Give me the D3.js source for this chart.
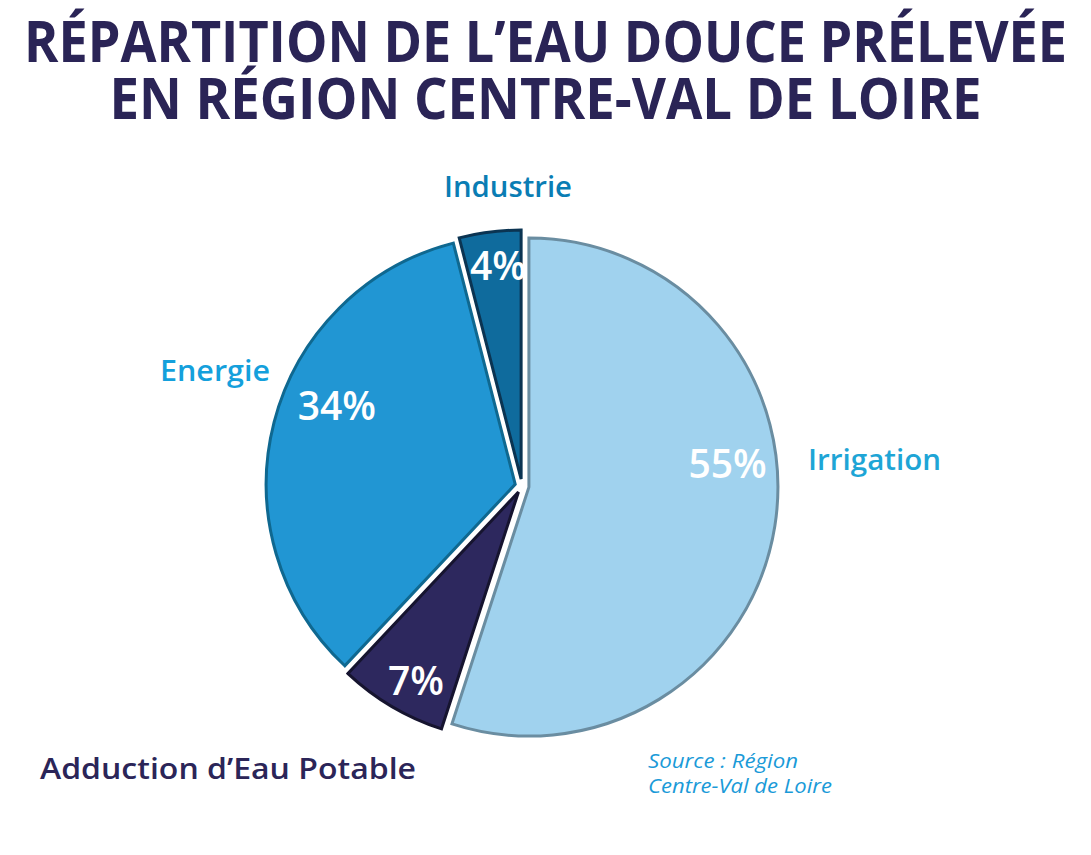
<!DOCTYPE html>
<html>
<head>
<meta charset="utf-8">
<script src="https://cdn.jsdelivr.net/npm/d3@7"></script>
<style>
  body { margin: 0; background: #fff; }
  svg { display: block; font-family: "Open Sans", Lato, sans-serif; }
</style>
</head>
<body>
<div id="chart"></div>
<script>
// Data
const categories = ["Irrigation", "Adduction d\u2019Eau Potable", "Energie", "Industrie"];
const shares = [55, 7, 34, 4];
const titleLines = ["RÉPARTITION DE L\u2019EAU DOUCE PRÉLEVÉE", "EN RÉGION CENTRE-VAL DE LOIRE"];
const sourceLines = ["Source : Région", "Centre-Val de Loire"];

// Styling per slice
const fills = ["#a0d2ee", "#2d285e", "#2196d3", "#0f6b9d"];
const strokes = ["#6a8da1", "#16142f", "#0f6890", "#0b3452"];
const nameColors = ["#1ea5d6", "#2b2558", "#14a0dc", "#0a7db4"];
// outside name labels: [x, y, anchor, width]
const namePos = [[808, 470, "start", 133], [40, 779, "start", 376], [215, 381, "middle", 110], [508, 197, "middle", 128]];
// percent label placement: angle nudge (degrees) and radius factor
const labelShift = [-15, -2, 9, 1];
const labelRadius = [0.83, 0.89, 0.81, 0.89];

const width = 1091, height = 855;
const cx = 522, cy = 486, radius = 249, explode = 7;

const svg = d3.select("#chart").append("svg")
  .attr("width", width)
  .attr("height", height);

// Title
svg.append("g").selectAll("text")
  .data(titleLines)
  .join("text")
  .attr("x", width / 2)
  .attr("y", (d, i) => 62 + i * 57)
  .attr("text-anchor", "middle")
  .attr("font-size", 57)
  .attr("font-weight", 700)
  .attr("fill", "#2a2456")
  .attr("textLength", (d, i) => i === 0 ? 1043 : 872)
  .attr("lengthAdjust", "spacingAndGlyphs")
  .text(d => d);

const pie = d3.pie().sort(null).value(d => d.value);
const arcs = pie(categories.map((c, i) => ({ name: c, value: shares[i], i })));

const arc = d3.arc().innerRadius(0).outerRadius(radius);

const g = svg.append("g").attr("transform", `translate(${cx},${cy})`);

const slices = g.selectAll("g.slice")
  .data(arcs)
  .join("g")
  .attr("class", "slice")
  .attr("transform", d => {
    const a = (d.startAngle + d.endAngle) / 2;
    return `translate(${Math.sin(a) * explode},${-Math.cos(a) * explode})`;
  });

slices.append("path")
  .attr("d", arc)
  .attr("fill", d => fills[d.data.i])
  .attr("stroke", d => strokes[d.data.i])
  .attr("stroke-width", 3)
  .attr("stroke-linejoin", "miter");

// percent labels, placed relative to the pie centre
g.selectAll("text.pct")
  .data(arcs)
  .join("text")
  .attr("class", "pct")
  .attr("transform", d => {
    const a = (d.startAngle + d.endAngle) / 2 + labelShift[d.data.i] * Math.PI / 180;
    const r = radius * labelRadius[d.data.i];
    return `translate(${Math.sin(a) * r},${-Math.cos(a) * r})`;
  })
  .attr("dy", "0.36em")
  .attr("text-anchor", "middle")
  .attr("font-size", 39)
  .attr("font-weight", 600)
  .attr("fill", "#fff")
  .text(d => d.data.value + "%");

// category names
svg.append("g").selectAll("text")
  .data(arcs)
  .join("text")
  .attr("x", d => namePos[d.data.i][0])
  .attr("y", d => namePos[d.data.i][1])
  .attr("text-anchor", d => namePos[d.data.i][2])
  .attr("font-size", 29)
  .attr("font-weight", 600)
  .attr("fill", d => nameColors[d.data.i])
  .attr("textLength", d => namePos[d.data.i][3])
  .attr("lengthAdjust", "spacingAndGlyphs")
  .text(d => d.data.name);

// source
svg.append("g").selectAll("text")
  .data(sourceLines)
  .join("text")
  .attr("x", 648)
  .attr("y", (d, i) => 768 + i * 25)
  .attr("font-size", 20)
  .attr("font-style", "italic")
  .attr("fill", "#1a9ad8")
  .attr("textLength", (d, i) => i === 0 ? 150 : 184)
  .attr("lengthAdjust", "spacingAndGlyphs")
  .text(d => d);
</script>
</body>
</html>
